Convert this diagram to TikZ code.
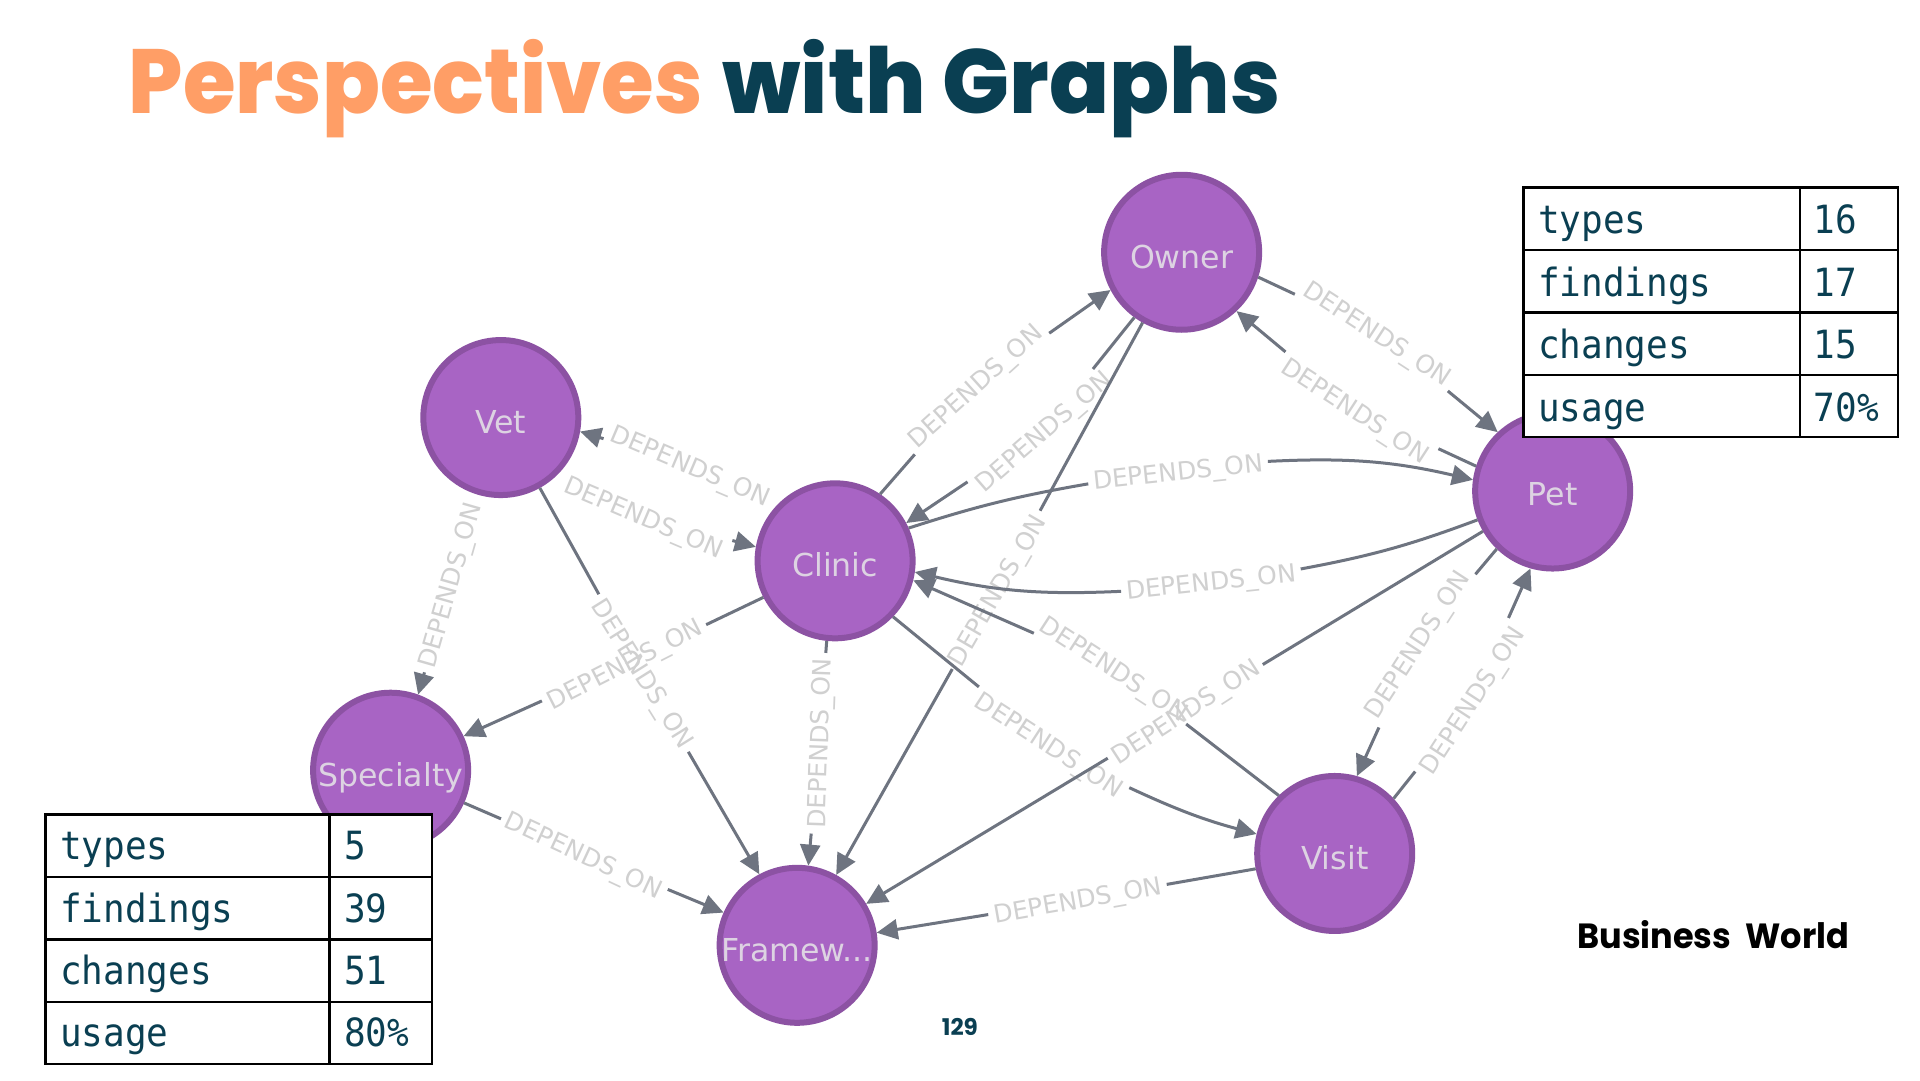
\documentclass[tikz,border=0pt]{standalone}
\usepackage{graphicx}
\usepackage{fontspec}
\setmainfont{DejaVu Sans}
\newfontfamily\pop{Poppins}
\newfontfamily\popx{Poppins ExtraBold}
\newfontfamily\monof{DejaVu Sans Mono}
\usetikzlibrary{arrows.meta}
\definecolor{gnode}{HTML}{A864C4}
\definecolor{gborder}{HTML}{8C52A3}
\definecolor{gedge}{HTML}{6E7480}
\definecolor{glabel}{HTML}{D0D0D0}
\definecolor{gntext}{HTML}{DDD3E2}
\definecolor{orangeT}{HTML}{FF9E66}
\definecolor{tealT}{HTML}{0A3F52}
\tikzset{
  gn/.style={circle,draw=gborder,fill=gnode,line width=6pt,minimum size=155pt,inner sep=0pt},
  gt/.style={anchor=base,inner sep=0pt,text=gntext,font=\fontsize{31.6}{32}\selectfont},
  lab/.style={text=glabel,font=\fontsize{25}{25}\selectfont,inner sep=5pt,text height=18pt,text depth=0pt},
  ed/.style={draw=gedge,line width=3pt},
  ar/.style={ed,-{Triangle[length=21pt,width=20pt]}},
  cell/.style={draw=black,line width=2.2pt,anchor=north west,minimum height=62.4pt,inner sep=0pt},
  ct/.style={anchor=base west,text=tealT,font=\monof\fontsize{36}{36}\selectfont,inner sep=0pt}
}
\begin{document}
\begin{tikzpicture}[x=1.2245pt,y=-1.2245pt]
\useasboundingbox (0,0) rectangle (1568,882);
\fill[white] (0,0) rectangle (1568,882);
% title
\node[anchor=base west,inner sep=0pt,text=orangeT] (t1) at (105,93) {\resizebox{574pt}{\height}{\popx\fontsize{91}{91}\selectfont Perspectives}};
\node[anchor=base west,inner sep=0pt,text=tealT] (t2) at (590,93) {\resizebox{558pt}{\height}{\popx\fontsize{91}{91}\selectfont with Graphs}};
% nodes
\node[gn] (O) at (965,206) {};
\node[gn] (V) at (409,341) {};
\node[gn] (C) at (682,458) {};
\node[gn] (P) at (1268,401) {};
\node[gn] (S) at (319,629) {};
\node[gn] (F) at (651,772) {};
\node[gn] (I) at (1090,697) {};
\node[gt] (Ot) at (965,219) {Owner};
\node[gt] (Vt) at (409,354) {Vet};
\node[gt] (Ct) at (682,471) {Clinic};
\node[gt] (Pt) at (1268,413) {Pet};
\node[gt] (St) at (319,642) {Specialty};
\node[gt] (Ft) at (651,785) {Framew...};
\node[gt] (It) at (1090,710) {Visit};
% edge labels
\node[lab,rotate=42] (l1) at (796,315) {DEPENDS\_ON};
\node[lab,rotate=41] (l2) at (852,352) {DEPENDS\_ON};
\node[lab,rotate=60] (l3) at (814,482) {DEPENDS\_ON};
\node[lab,rotate=-33] (l4) at (1125,272) {DEPENDS\_ON};
\node[lab,rotate=-33] (l5) at (1107,335) {DEPENDS\_ON};
\node[lab,rotate=6] (l6) at (962,385) {DEPENDS\_ON};
\node[lab,rotate=6] (l7) at (989,475) {DEPENDS\_ON};
\node[lab,rotate=-33] (l8) at (910,546) {DEPENDS\_ON};
\node[lab,rotate=33] (l9) at (968,581) {DEPENDS\_ON};
\node[lab,rotate=57] (l10) at (1157,526) {DEPENDS\_ON};
\node[lab,rotate=57] (l11) at (1202,572) {DEPENDS\_ON};
\node[lab,rotate=-33] (l12) at (857,608) {DEPENDS\_ON};
\node[lab,rotate=10] (l13) at (880,735) {DEPENDS\_ON};
\node[lab,rotate=-23] (l14) at (526,422) {DEPENDS\_ON};
\node[lab,rotate=-23] (l15) at (564,380) {DEPENDS\_ON};
\node[lab,rotate=74] (l16) at (367,478) {DEPENDS\_ON};
\node[lab,rotate=-58] (l17) at (525,550) {DEPENDS\_ON};
\node[lab,rotate=27] (l18) at (510,542) {DEPENDS\_ON};
\node[lab,rotate=88] (l19) at (669,607) {DEPENDS\_ON};
\node[lab,rotate=-25] (l20) at (477,698) {DEPENDS\_ON};
% edges
\draw[ed] (C.56) -- (l1); \draw[ar] (l1) -- (O.208);
\draw[ed] (O.234) -- (l2); \draw[ar] (l2) -- (C.28);
\draw[ed] (O.241) -- (l3); \draw[ar] (l3) -- (F.61);
\draw[ed] (O.-18) -- (l4); \draw[ar] (l4) -- (P.133);
\draw[ed] (P.162) -- (l5); \draw[ar] (l5) -- (O.-47);
\draw[ed] (C.24) to[bend left=4] (l6); \draw[ar] (l6) to[bend left=8] (P.172);
\draw[ed] (P.201) to[bend left=5] (l7); \draw[ar] (l7) to[bend left=8] (C.-8);
\draw[ed] (I.134) -- (l8); \draw[ar] (l8) -- (C.-14);
\draw[ed] (P.210) -- (l9); \draw[ar] (l9) -- (F.31);
\draw[ed] (P.226) -- (l10); \draw[ar] (l10) -- (I.74);
\draw[ed] (I.43) -- (l11); \draw[ar] (l11) -- (P.254);
\draw[ed] (C.-44) -- (l12); \draw[ar] (l12) to[bend right=5] (I.166);
\draw[ed] (I.191) -- (l13); \draw[ar] (l13) -- (F.9);
\draw[ar] (l14) -- (C.170);
\draw[ar] (l15) -- (V.-10);
\draw[ar] (l16) -- (S.70);
\draw[ed] (V.-61) -- (l17); \draw[ar] (l17) -- (F.118);
\draw[ed] (C.207) -- (l18); \draw[ar] (l18) -- (S.25);
\draw[ed] (C.264) -- (l19); \draw[ar] (l19) -- (F.82);
\draw[ed] (S.-24) -- (l20); \draw[ar] (l20) -- (F.156);
% right table
\foreach \i/\a/\b in {0/types/16,1/findings/17,2/changes/15,3/usage/70\%}{
  \node[cell,fill=white,minimum width=277pt] (ra\i) at (1243.3,152.3+51*\i) {};
  \node[cell,fill=white,minimum width=98pt] (rb\i) at (1469.3,152.3+51*\i) {};
  \node[ct] (rat\i) at (1256,191+51*\i) {\scalebox{1}[1.08]{\a}};
  \node[ct] (rbt\i) at (1481,191+51*\i) {\scalebox{1}[1.08]{\b}};
}
% left table
\foreach \i/\a/\b in {0/types/5,1/findings/39,2/changes/51,3/usage/80\%}{
  \node[cell,fill=white,minimum width=284pt] (la\i) at (36.3,664.3+51*\i) {};
  \node[cell,fill=white,minimum width=102pt] (lb\i) at (268.3,664.3+51*\i) {};
  \node[ct] (lat\i) at (49,702+51*\i) {\scalebox{1}[1.08]{\a}};
  \node[ct] (lbt\i) at (281,702+51*\i) {\scalebox{1}[1.08]{\b}};
}
% footer
\node[anchor=base west,inner sep=0pt,text=tealT] (pg) at (769,846) {\resizebox{36pt}{\height}{\pop\bfseries\fontsize{23}{23}\selectfont 129}};
\node[anchor=base west,inner sep=0pt,text=black] (bw) at (1288,775) {\resizebox{272pt}{\height}{\pop\bfseries\fontsize{35}{35}\selectfont Business\ \ World}};
\end{tikzpicture}
\end{document}
